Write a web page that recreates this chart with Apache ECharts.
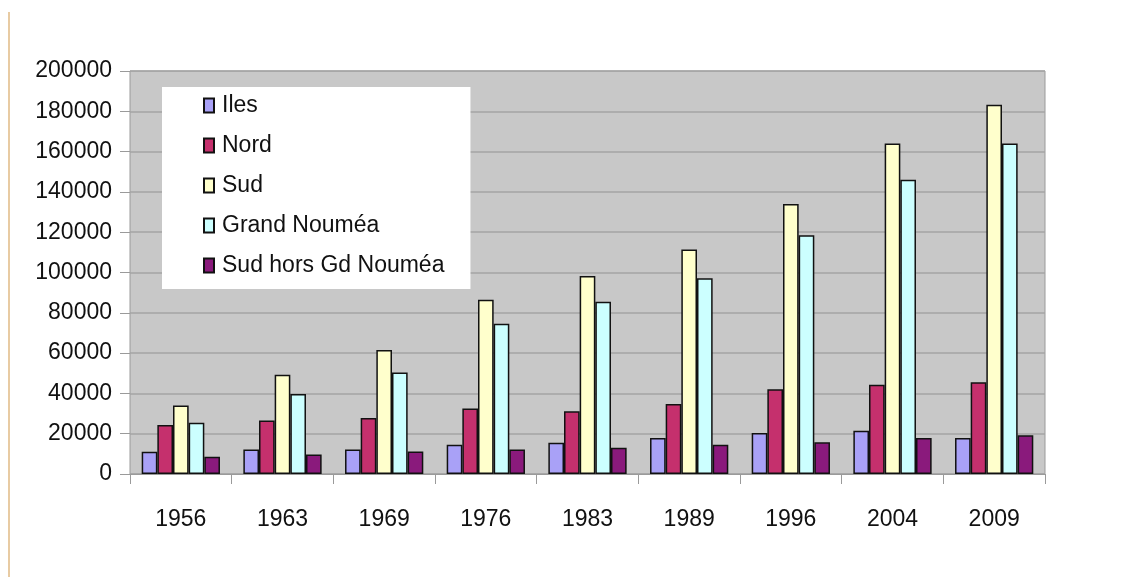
<!DOCTYPE html>
<html>
<head>
<meta charset="utf-8">
<script src="https://cdn.jsdelivr.net/npm/echarts@6/dist/echarts.min.js"></script>
<style>
html,body{margin:0;padding:0;background:#fff;}
#c{width:1130px;height:577px;}
</style>
</head>
<body>
<div id="c"></div>
<script>
const years = ['1956','1963','1969','1976','1983','1989','1996','2004','2009'];
const iles = [11000, 12200, 12200, 14500, 15500, 17900, 20300, 21500, 17900];
const nord = [24300, 26600, 27800, 32500, 31100, 34700, 42000, 44300, 45500];
const sud = [34000, 49200, 61500, 86500, 98300, 111400, 134000, 164000, 183200];
const grandNoumea = [25400, 39700, 50400, 74600, 85500, 97200, 118500, 146000, 164000];
const sudHorsGN = [8600, 9700, 11200, 12200, 13000, 14500, 15700, 17900, 19200];
const seriesNames = ['Iles','Nord','Sud','Grand Nouméa','Sud hors Gd Nouméa'];
const seriesData = [iles, nord, sud, grandNoumea, sudHorsGN];
const colors = ['#a9a1f7','#c5306d','#ffffcc','#ccffff','#8a1a7c'];

const FONT = '"Liberation Sans",Arial,sans-serif';
const chart = echarts.init(document.getElementById('c'), null, {renderer:'canvas'});
chart.setOption({
  animation:false,
  backgroundColor:'#ffffff',
  textStyle:{fontFamily:FONT},
  graphic:[{type:'line',shape:{x1:9,y1:12,x2:9,y2:577},style:{stroke:'#e8cba3',lineWidth:2}}],
  grid:{left:130,right:85,top:71,bottom:103,show:true,backgroundColor:'#c8c8c8',borderColor:'#9a9a9a',borderWidth:1,containLabel:false},
  legend:{
    orient:'vertical',left:162,top:87,
    backgroundColor:'#ffffff',
    padding:[7,26,12,41],
    icon:'rect',
    itemWidth:10,itemHeight:14,itemGap:17,
    textStyle:{fontFamily:FONT,fontSize:23,lineHeight:23,color:'#111',padding:[0,0,0,3]},
    data:seriesNames
  },
  xAxis:{
    type:'category',data:years,
    axisLine:{show:true,lineStyle:{color:'#9a9a9a',width:1}},
    axisTick:{show:true,length:10,interval:0,alignWithLabel:false,lineStyle:{color:'#9a9a9a'}},
    axisLabel:{margin:34,fontSize:23,color:'#111',fontFamily:FONT}
  },
  yAxis:{
    type:'value',min:0,max:200000,interval:20000,
    axisLine:{show:false},
    axisTick:{show:true,length:10,inside:false,lineStyle:{color:'#9a9a9a'}},
    axisLabel:{margin:18,fontSize:23,color:'#111',fontFamily:FONT,formatter:v=>String(v)},
    splitLine:{show:true,lineStyle:{color:'#a4a4a4',width:1.5}}
  },
  series: seriesNames.map((n,i)=>({
    name:n,type:'bar',data:seriesData[i],
    barGap:'0%',barCategoryGap:'23%',
    itemStyle:{color:colors[i],borderColor:'#111',borderWidth:1.5}
  }))
});
</script>
</body>
</html>
